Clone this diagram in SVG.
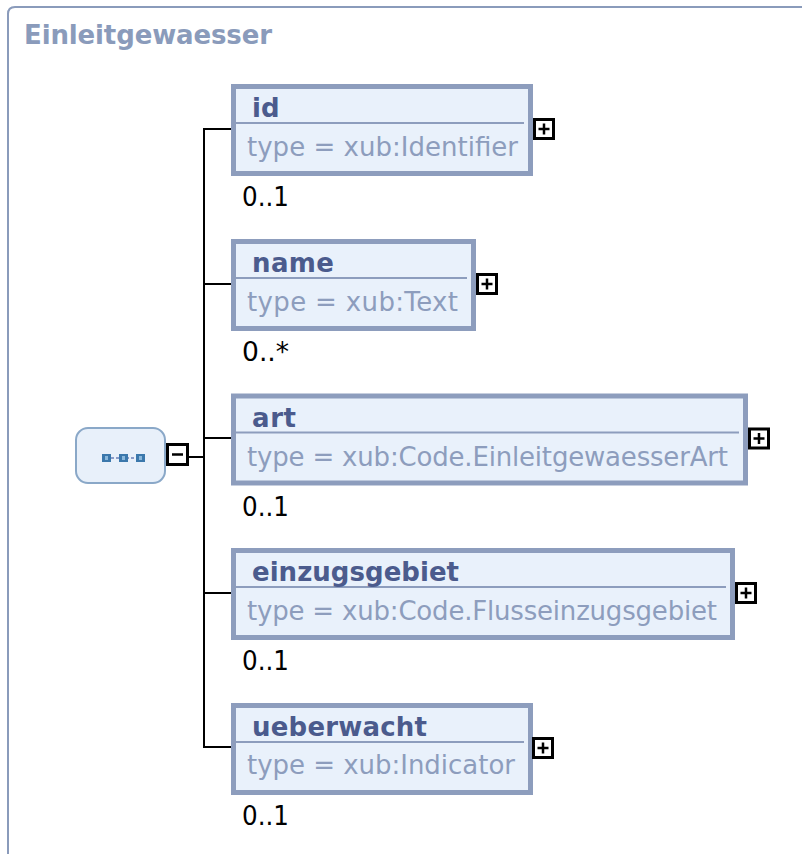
<svg xmlns="http://www.w3.org/2000/svg" width="802" height="854" viewBox="0 0 802 854">
<style>
.frame{fill:none;stroke:#8a9bbb;stroke-width:2}
.title{font-family:"DejaVu Sans",Verdana,sans-serif;font-weight:bold;font-size:26px;fill:#8a9bbb}
.box{fill:#e9f1fb;stroke:#8d9dbd;stroke-width:5}
.div{stroke:#8d9dbd;stroke-width:2}
.nm{font-family:"DejaVu Sans",Verdana,sans-serif;font-weight:bold;font-size:26px;fill:#4b5b8d}
.ty{font-family:"DejaVu Sans",Verdana,sans-serif;font-size:26px;fill:#8d9dbd}
.mu{font-family:"DejaVu Sans",Verdana,sans-serif;font-size:27px;fill:#000}
.btn{fill:#fff;stroke:#000;stroke-width:3}
.sym{stroke:#000;stroke-width:2.5}
.con{stroke:#000;stroke-width:2;fill:none}
</style>
<path class="frame" d="M8,854 V14 Q8,7 15,7 H802"/>
<text class="title" x="24" y="44" textLength="248">Einleitgewaesser</text>

<g id="connectors">
<line class="con" x1="204" y1="128" x2="204" y2="748"/>
<line class="con" x1="189" y1="457" x2="204" y2="457"/>
<line class="con" x1="204" y1="129" x2="232" y2="129"/>
<line class="con" x1="204" y1="284" x2="232" y2="284"/>
<line class="con" x1="204" y1="438" x2="232" y2="438"/>
<line class="con" x1="204" y1="593" x2="232" y2="593"/>
<line class="con" x1="204" y1="747" x2="232" y2="747"/>
</g>

<g id="sequence">
<rect x="76" y="428" width="89" height="55" rx="12" fill="#e8f0fa" stroke="#8aa8c8" stroke-width="2"/>
<line x1="106" y1="458" x2="140" y2="458" stroke="#8a9bc8" stroke-width="2" stroke-dasharray="3,2"/>
<rect x="102" y="454" width="9" height="8" fill="#3b78ac"/>
<rect x="105" y="456" width="3" height="4" fill="#8ab8dc"/>
<rect x="119" y="454" width="9" height="8" fill="#3b78ac"/>
<rect x="122" y="456" width="3" height="4" fill="#8ab8dc"/>
<rect x="136" y="454" width="9" height="8" fill="#3b78ac"/>
<rect x="139" y="456" width="3" height="4" fill="#8ab8dc"/>
<rect class="btn" x="167.5" y="444.5" width="20" height="20"/>
<line class="sym" x1="172" y1="454.5" x2="183" y2="454.5"/>
</g>

<g id="node-id">
<rect class="box" x="233.5" y="86.5" width="297" height="87"/>
<line class="div" x1="236" y1="123" x2="524" y2="123"/>
<text class="nm" x="252" y="117">id</text>
<text class="ty" x="247" y="156" textLength="271">type = xub:Identifier</text>
<text class="mu" x="242" y="206" textLength="47" lengthAdjust="spacingAndGlyphs">0..1</text>
<rect class="btn" x="534.5" y="119.5" width="19" height="19"/>
<line class="sym" x1="538.5" y1="129" x2="549.5" y2="129"/>
<line class="sym" x1="544" y1="123.5" x2="544" y2="134.5"/>
</g>

<g id="node-name">
<rect class="box" x="233.5" y="241.5" width="240" height="87"/>
<line class="div" x1="236" y1="278" x2="467" y2="278"/>
<text class="nm" x="252" y="272" textLength="82">name</text>
<text class="ty" x="247" y="311" textLength="211">type = xub:Text</text>
<text class="mu" x="242" y="361" textLength="47" lengthAdjust="spacingAndGlyphs">0..*</text>
<rect class="btn" x="477.5" y="274.5" width="19" height="19"/>
<line class="sym" x1="481.5" y1="284" x2="492.5" y2="284"/>
<line class="sym" x1="487" y1="278.5" x2="487" y2="289.5"/>
</g>

<g id="node-art">
<rect class="box" x="233.5" y="396" width="512" height="87"/>
<line class="div" x1="236" y1="432.5" x2="739" y2="432.5"/>
<text class="nm" x="252" y="426.5" textLength="44">art</text>
<text class="ty" x="247" y="465.5" textLength="481">type = xub:Code.EinleitgewaesserArt</text>
<text class="mu" x="242" y="515.5" textLength="47" lengthAdjust="spacingAndGlyphs">0..1</text>
<rect class="btn" x="749.5" y="429" width="19" height="19"/>
<line class="sym" x1="753.5" y1="438.5" x2="764.5" y2="438.5"/>
<line class="sym" x1="759" y1="433" x2="759" y2="444"/>
</g>

<g id="node-einzugsgebiet">
<rect class="box" x="233.5" y="550.5" width="499" height="87"/>
<line class="div" x1="236" y1="587" x2="726" y2="587"/>
<text class="nm" x="252" y="581" textLength="207">einzugsgebiet</text>
<text class="ty" x="247" y="620" textLength="470">type = xub:Code.Flusseinzugsgebiet</text>
<text class="mu" x="242" y="670" textLength="47" lengthAdjust="spacingAndGlyphs">0..1</text>
<rect class="btn" x="736.5" y="583.5" width="19" height="19"/>
<line class="sym" x1="740.5" y1="593" x2="751.5" y2="593"/>
<line class="sym" x1="746" y1="587.5" x2="746" y2="598.5"/>
</g>

<g id="node-ueberwacht">
<rect class="box" x="233.5" y="705.5" width="297" height="87"/>
<line class="div" x1="236" y1="742" x2="524" y2="742"/>
<text class="nm" x="252" y="736" textLength="175">ueberwacht</text>
<text class="ty" x="247" y="774" textLength="268">type = xub:Indicator</text>
<text class="mu" x="242" y="825" textLength="47" lengthAdjust="spacingAndGlyphs">0..1</text>
<rect class="btn" x="533.5" y="738.5" width="19" height="19"/>
<line class="sym" x1="537.5" y1="748" x2="548.5" y2="748"/>
<line class="sym" x1="543" y1="742.5" x2="543" y2="753.5"/>
</g>
</svg>
